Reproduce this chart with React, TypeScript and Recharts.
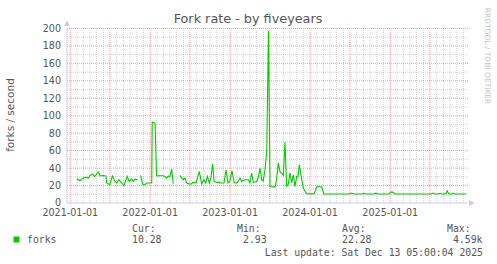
import React from 'react';
import { LineChart, Line, XAxis, YAxis, ReferenceLine } from 'recharts';

const dates = [
  '2021-01-30', '2021-02-14', '2021-03-01', '2021-03-17', '2021-03-25', '2021-04-01', '2021-04-13', '2021-04-21',
  '2021-04-28', '2021-05-09', '2021-05-17', '2021-05-30', '2021-06-13', '2021-06-16', '2021-07-01', '2021-07-12',
  '2021-07-24', '2021-08-01', '2021-08-11', '2021-08-24', '2021-09-03', '2021-09-18', '2021-09-27', '2021-10-08',
  '2021-10-16', '2021-10-23', '2021-11-03', '2021-11-10', '2021-11-18', '2021-11-28', '2021-12-08', '2021-12-16',
  '2022-01-08', '2022-01-10', '2022-01-23', '2022-01-30', '2022-03-02', '2022-03-09', '2022-03-17', '2022-03-24',
  '2022-04-01', '2022-04-09', '2022-04-16', '2022-05-03', '2022-05-17', '2022-05-25', '2022-06-01', '2022-06-09',
  '2022-06-16', '2022-06-27', '2022-07-06', '2022-07-17', '2022-07-29', '2022-08-13', '2022-08-24', '2022-09-03',
  '2022-09-11', '2022-09-19', '2022-09-28', '2022-10-05', '2022-10-13', '2022-10-20', '2022-10-31', '2022-11-09',
  '2022-11-19', '2022-12-04', '2022-12-13', '2022-12-22', '2022-12-31', '2023-01-09', '2023-01-20', '2023-02-02',
  '2023-02-15', '2023-02-23', '2023-03-10', '2023-03-25', '2023-04-01', '2023-04-09', '2023-04-17', '2023-05-02',
  '2023-05-10', '2023-05-17', '2023-05-25', '2023-06-01', '2023-06-09', '2023-06-17', '2023-06-25', '2023-07-02',
  '2023-07-25', '2023-08-01', '2023-08-09', '2023-08-16', '2023-09-01', '2023-09-08', '2023-09-16', '2023-09-23',
  '2023-10-01', '2023-10-09', '2023-10-16', '2023-10-24', '2023-11-01', '2023-11-07', '2023-11-13', '2023-11-24',
  '2023-12-01', '2023-12-09', '2023-12-16', '2024-01-19', '2024-01-31', '2024-02-06', '2024-02-23', '2024-03-04',
  '2024-06-27', '2024-07-09', '2024-07-19', '2024-08-25', '2024-09-04', '2024-09-14', '2024-10-19', '2024-10-26',
  '2024-11-04', '2024-12-26', '2025-01-02', '2025-01-13', '2025-01-23', '2025-07-06', '2025-07-16', '2025-07-24',
  '2025-08-07', '2025-08-16', '2025-08-25', '2025-09-12', '2025-09-18', '2025-09-26', '2025-10-10', '2025-10-16',
  '2025-10-24', '2025-12-13',
];

const forks: (number | null)[] = [
  27.8, 25.5, 28.6, 29.3, 28.5, 31.6, 33.2, 30.5,
  32, 35.5, 31, 31.5, 31, 22.9, 21, 31,
  24.7, 22.9, 26.7, 22.9, 19.8, 30.5, 24.7, 27.3,
  24.7, 27.3, 26.5, null, 31.6, 21, 21, 22.9,
  22.9, 92.7, 91.6, 31.2, 31.2, 30.5, 28.6, 31,
  30, 38.9, 22.1, null, 31.6, 28.6, 26.7, 28.6,
  22.9, 22.1, 21.7, 23.6, 23, 36.2, 22, 26.7,
  22.9, 30.5, 22.9, 28.6, 44.7, 24.7, 23.6, 23.6,
  22.9, 22.9, 38.1, 22.9, 24.7, 37, 22.9, 22.9,
  28.6, 24.7, 26.7, 26.7, 22.9, 34.4, 23.6, 24.7,
  30, 40, 26.7, 25, 38, 59, 197, 19,
  18.3, 26.7, 46, 36.2, 32, 69.5, 19.4, 21,
  34.4, 22.9, 32.4, 19, 30.5, 30.5, 44, 26.7,
  17.2, 13.4, 10.7, 10.5, 18.3, 18.8, 18.3, 10.3,
  10.3, 11.4, 10.3, 10.3, 11.2, 10.3, 10.3, 11.2,
  10.3, 10.3, 12.5, 12.5, 10.3, 10.3, 11.4, 10.3,
  10.3, 11.2, 10.3, 10.3, 14, 10.3, 10.3, 11.4,
  10.3, 10.28,
];

const yearTicks = ['2021-01-01', '2022-01-01', '2023-01-01', '2024-01-01', '2025-01-01'];
const yTicks = [0, 20, 40, 60, 80, 100, 120, 140, 160, 180, 200];
const domainStart = '2020-12-17';
const domainEnd = '2025-12-22';

const legendCols = ['Cur:', 'Min:', 'Avg:', 'Max:'];
const legendVals = ['10.28', '2.93', '22.28', '4.59k'];
const lastUpdate = 'Last update: Sat Dec 13 05:00:04 2025';

const rows = dates.map((d, i) => ({ t: Date.parse(d), forks: forks[i] }));

// month grid: Jan/Jul are the red ones
const monthLines: { t: number; major: boolean }[] = [];
for (let y = 2021; y <= 2025; y++) {
  for (let m = 0; m < 12; m++) {
    monthLines.push({ t: Date.UTC(y, m, 1), major: m === 0 || m === 6 });
  }
}
const hLines: { v: number; major: boolean }[] = [];
for (let v = 10; v <= 200; v += 10) hLines.push({ v, major: v % 20 === 0 });

const MINOR = 'rgba(0,0,0,0.18)';
const MAJOR = 'rgba(240,0,0,0.38)';
const AXIS = '#c8c8f4';
const TEXT = '#555';
const SANS = '"DejaVu Sans", sans-serif';
const MONO = '"DejaVu Sans Mono", monospace';

export default function App() {
  const legendX = [132, 237, 342, 447];
  const valX = [132, 243, 342, 453];
  return (
    <div style={{ position: 'absolute', left: 0, top: 0, width: 497, height: 264, background: '#fff' }}>
      <LineChart width={497} height={264} data={rows} margin={{ top: 28.5, right: 29, bottom: 31, left: 0 }}>
        <XAxis
          dataKey="t"
          type="number"
          scale="time"
          domain={[Date.parse(domainStart), Date.parse(domainEnd)]}
          ticks={yearTicks.map(d => Date.parse(d))}
          tickFormatter={(v: number) => new Date(v).toISOString().slice(0, 10)}
          tick={{ fill: TEXT, fontSize: 9.6, fontFamily: SANS }}
          tickLine={false}
          tickSize={5}
          tickMargin={1.5}
          axisLine={{ stroke: AXIS }}
          height={30}
          allowDataOverflow
        />
        <YAxis
          type="number"
          domain={[0, 200]}
          ticks={yTicks}
          tick={{ fill: TEXT, fontSize: 9.6, fontFamily: SANS }}
          tickLine={false}
          tickSize={5}
          tickMargin={1}
          axisLine={{ stroke: AXIS }}
          width={67}
          interval={0}
        />
        {monthLines.filter(l => !l.major).map(l => (
          <ReferenceLine key={'mx' + l.t} x={l.t} stroke={MINOR} strokeDasharray="1 1" />
        ))}
        {hLines.filter(l => !l.major).map(l => (
          <ReferenceLine key={'my' + l.v} y={l.v} stroke={MINOR} strokeDasharray="1 1" />
        ))}
        {monthLines.filter(l => l.major).map(l => (
          <ReferenceLine key={'Mx' + l.t} x={l.t} stroke={MAJOR} strokeDasharray="1 1" />
        ))}
        {hLines.filter(l => l.major).map(l => (
          <ReferenceLine key={'My' + l.v} y={l.v} stroke={MAJOR} strokeDasharray="1 1" />
        ))}
        <Line
          dataKey="forks"
          type="linear"
          stroke="#00cc00"
          strokeWidth={1.1}
          dot={false}
          isAnimationActive={false}
        />
      </LineChart>
      <svg width={497} height={264} style={{ position: 'absolute', left: 0, top: 0, pointerEvents: 'none' }}>
        <polygon points="64,26 67,20.5 70,26" fill={AXIS} />
        <polygon points="469,200 474.5,203 469,206" fill={AXIS} />
        <text x={248} y={23} textAnchor="middle" fontFamily={SANS} fontSize={12.8} fill={TEXT}>
          Fork rate - by fiveyears
        </text>
        <text
          x={0}
          y={0}
          transform="translate(14,115) rotate(-90)"
          textAnchor="middle"
          fontFamily={SANS}
          fontSize={10.5}
          fill={TEXT}
        >
          forks / second
        </text>
        <text
          x={0}
          y={0}
          transform="translate(485,56) rotate(90)"
          textAnchor="middle"
          fontFamily={SANS}
          fontSize={7.5}
          fill="#c4c4c4"
        >
          RRDTOOL / TOBI OETIKER
        </text>
        <rect x={13.5} y={236.5} width={6} height={6} fill="#00cc00" />
        <text x={27} y={243} fontFamily={MONO} fontSize={9.8} fill={TEXT}>forks</text>
        {legendCols.map((c, i) => (
          <text key={c} x={legendX[i]} y={231.5} fontFamily={MONO} fontSize={9.8} fill={TEXT}>{c}</text>
        ))}
        {legendVals.map((v, i) => (
          <text key={v} x={valX[i]} y={243} fontFamily={MONO} fontSize={9.8} fill={TEXT}>{v}</text>
        ))}
        <text x={483} y={255.5} textAnchor="end" fontFamily={MONO} fontSize={9.8} fill={TEXT}>{lastUpdate}</text>
      </svg>
    </div>
  );
}
